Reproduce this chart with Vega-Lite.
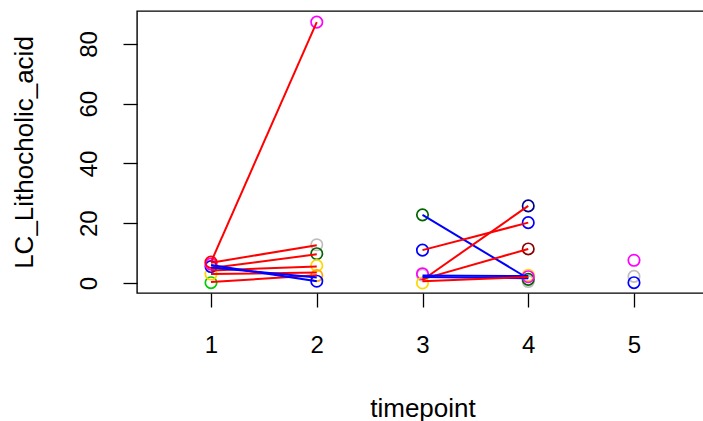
{
  "$schema": "https://vega.github.io/schema/vega-lite/v6.json",
  "width": 571,
  "height": 282,
  "autosize": {"type": "none"},
  "padding": {"left": 137, "top": 11, "right": 0, "bottom": 128},
  "background": "white",
  "config": {
    "view": {"stroke": "black", "strokeWidth": 1.4},
    "font": "Liberation Sans",
    "axis": {
      "domain": false,
      "grid": false,
      "tickColor": "black",
      "tickWidth": 1.3,
      "tickSize": 14,
      "labelFontSize": 24,
      "labelColor": "black",
      "titleFontSize": 26,
      "titleFontWeight": "normal",
      "titleColor": "black"
    }
  },
  "datasets": {
    "pts": [
      {"timepoint": 1, "value": 0.1, "colour": "green"},
      {"timepoint": 1, "value": 3.0, "colour": "yellow"},
      {"timepoint": 1, "value": 5.5, "colour": "blue"},
      {"timepoint": 1, "value": 6.3, "colour": "magenta"},
      {"timepoint": 1, "value": 7.0, "colour": "red"},
      {"timepoint": 2, "value": 87.3, "colour": "magenta"},
      {"timepoint": 2, "value": 12.8, "colour": "grey"},
      {"timepoint": 2, "value": 9.8, "colour": "darkgreen"},
      {"timepoint": 2, "value": 5.8, "colour": "yellow"},
      {"timepoint": 2, "value": 2.5, "colour": "orange"},
      {"timepoint": 2, "value": 0.6, "colour": "blue"},
      {"timepoint": 3, "value": 22.8, "colour": "darkgreen"},
      {"timepoint": 3, "value": 11.0, "colour": "blue"},
      {"timepoint": 3, "value": 2.6, "colour": "grey"},
      {"timepoint": 3, "value": 3.1, "colour": "magenta"},
      {"timepoint": 3, "value": 0.0, "colour": "yellow"},
      {"timepoint": 4, "value": 25.8, "colour": "navy"},
      {"timepoint": 4, "value": 20.2, "colour": "blue"},
      {"timepoint": 4, "value": 11.4, "colour": "darkred"},
      {"timepoint": 4, "value": 0.5, "colour": "grey"},
      {"timepoint": 4, "value": 1.2, "colour": "darkgreen"},
      {"timepoint": 4, "value": 2.6, "colour": "yellow"},
      {"timepoint": 4, "value": 2.1, "colour": "magenta"},
      {"timepoint": 5, "value": 7.6, "colour": "magenta"},
      {"timepoint": 5, "value": 2.2, "colour": "grey"},
      {"timepoint": 5, "value": 0.1, "colour": "blue"}
    ],
    "lns": [
      {"subject": "a", "group": "up", "timepoint": 1, "value": 7.0},
      {"subject": "a", "group": "up", "timepoint": 2, "value": 87.3},
      {"subject": "b", "group": "up", "timepoint": 1, "value": 6.8},
      {"subject": "b", "group": "up", "timepoint": 2, "value": 12.6},
      {"subject": "c", "group": "up", "timepoint": 1, "value": 5.0},
      {"subject": "c", "group": "up", "timepoint": 2, "value": 9.6},
      {"subject": "d", "group": "up", "timepoint": 1, "value": 4.2},
      {"subject": "d", "group": "up", "timepoint": 2, "value": 5.5},
      {"subject": "e", "group": "up", "timepoint": 1, "value": 0.3},
      {"subject": "e", "group": "up", "timepoint": 2, "value": 2.6},
      {"subject": "h", "group": "up", "timepoint": 1, "value": 3.0},
      {"subject": "h", "group": "up", "timepoint": 2, "value": 3.5},
      {"subject": "f", "group": "down", "timepoint": 1, "value": 6.0},
      {"subject": "f", "group": "down", "timepoint": 2, "value": 0.6},
      {"subject": "g", "group": "down", "timepoint": 1, "value": 5.2},
      {"subject": "g", "group": "down", "timepoint": 2, "value": 1.8},
      {"subject": "i", "group": "down", "timepoint": 3, "value": 22.8},
      {"subject": "i", "group": "down", "timepoint": 4, "value": 1.5},
      {"subject": "j", "group": "up", "timepoint": 3, "value": 11.0},
      {"subject": "j", "group": "up", "timepoint": 4, "value": 20.2},
      {"subject": "k", "group": "up", "timepoint": 3, "value": 1.0},
      {"subject": "k", "group": "up", "timepoint": 4, "value": 25.8},
      {"subject": "l", "group": "up", "timepoint": 3, "value": 1.3},
      {"subject": "l", "group": "up", "timepoint": 4, "value": 11.4},
      {"subject": "m", "group": "down", "timepoint": 3, "value": 2.5},
      {"subject": "m", "group": "down", "timepoint": 4, "value": 2.3},
      {"subject": "n", "group": "down", "timepoint": 3, "value": 2.0},
      {"subject": "n", "group": "down", "timepoint": 4, "value": 1.6},
      {"subject": "o", "group": "up", "timepoint": 3, "value": 0.6},
      {"subject": "o", "group": "up", "timepoint": 4, "value": 2.0}
    ]
  },
  "layer": [
    {
      "data": {"name": "pts"},
      "mark": {"type": "point", "shape": "circle", "filled": false, "size": 130, "strokeWidth": 1.7, "opacity": 1},
      "encoding": {
        "x": {"field": "timepoint", "type": "quantitative", "scale": {"domain": [0.3, 5.7], "nice": false, "zero": false},
              "axis": {"title": "timepoint", "values": [1, 2, 3, 4, 5], "format": "d", "labelPadding": 26, "titlePadding": 38}},
        "y": {"field": "value", "type": "quantitative", "scale": {"domain": [-3.35, 91.04], "nice": false, "zero": false},
              "axis": {"title": "LC_Lithocholic_acid", "values": [0, 20, 40, 60, 80], "format": "d", "labelAngle": -90, "labelAlign": "center", "labelBaseline": "bottom", "labelPadding": 22, "titlePadding": 40}},
        "color": {"field": "colour", "type": "nominal", "legend": null,
                  "scale": {"domain": ["green", "yellow", "blue", "magenta", "red", "grey", "darkgreen", "orange", "navy", "darkred"],
                            "range": ["#00CD00", "#FFD700", "#0000FF", "#FF00FF", "#FF0000", "#BEBEBE", "#006400", "#FFA500", "#00008B", "#8B0000"]}}
      }
    },
    {
      "data": {"name": "lns"},
      "mark": {"type": "line", "strokeWidth": 2},
      "encoding": {
        "x": {"field": "timepoint", "type": "quantitative"},
        "y": {"field": "value", "type": "quantitative"},
        "detail": {"field": "subject", "type": "nominal"},
        "color": {"field": "group", "type": "nominal", "legend": null,
                  "scale": {"domain": ["up", "down"], "range": ["#FF0000", "#0000FF"]}}
      }
    }
  ],
  "resolve": {"scale": {"color": "independent"}}
}
